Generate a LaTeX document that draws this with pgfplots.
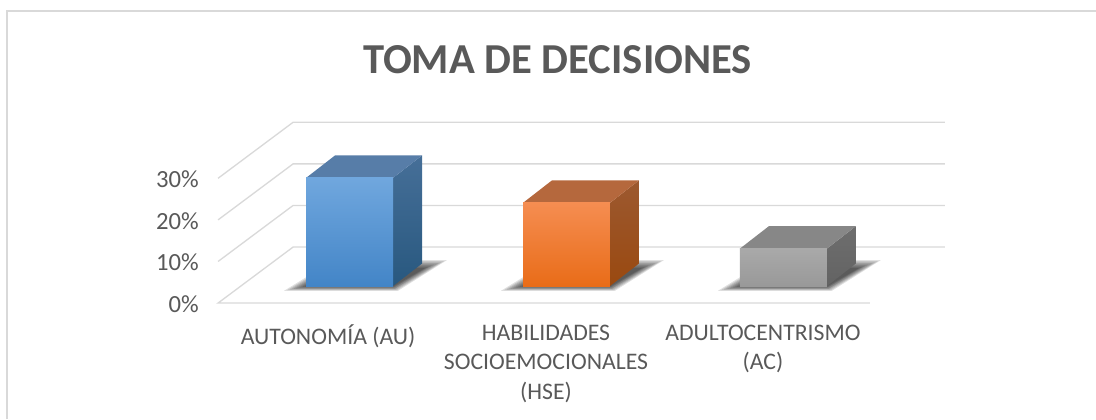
\documentclass[border=0pt]{standalone}
\usepackage{pgfplots}
\pgfplotsset{compat=1.18}
\usepackage{fontspec}
\setmainfont{Carlito}
\definecolor{gridc}{HTML}{D9D9D9}
\definecolor{txt}{HTML}{595959}
\newcommand{\shadowlayer}[2]{%
  \addplot[draw=none,fill=black,fill opacity=0.12,x filter/.expression={x+#1}] table[row sep=\\]{x y\\ #2 \\} -- cycle;}
\newcommand{\barshadow}[1]{%
  \shadowlayer{#1}{284 2.95\\ 398 2.95\\ 447 10.34\\ 334 10.34}
  \shadowlayer{#1}{287 3.10\\ 397 3.10\\ 444 10.07\\ 335 10.07}
  \shadowlayer{#1}{290 3.25\\ 396 3.25\\ 441 9.78\\ 335 9.78}
  \shadowlayer{#1}{293 3.40\\ 395 3.40\\ 438 9.52\\ 336 9.52}
  \shadowlayer{#1}{296 3.55\\ 395 3.55\\ 434 9.23\\ 336 9.23}
  \shadowlayer{#1}{299 3.70\\ 394 3.70\\ 431 8.97\\ 337 8.97}
  \shadowlayer{#1}{302 3.85\\ 394 3.85\\ 428 8.68\\ 337 8.68}
  \shadowlayer{#1}{305 3.97\\ 393 3.97\\ 425 8.41\\ 338 8.41}}
\begin{document}
\begin{tikzpicture}
\begin{axis}[
  scale only axis, width=822pt, height=314.25pt,
  xmin=0, xmax=1096, ymin=-27.885, ymax=72.837,
  axis line style={draw=none},
  major tick length=0pt,
  no markers,
  clip=true,
  xtick={328,546,763},
  xticklabels={AUTONOMÍA (AU),HABILIDADES\\SOCIOEMOCIONALES\\(HSE),ADULTOCENTRISMO\\(AC)},
  xticklabel style={align=center,anchor=north,yshift=74pt,font=\fontsize{17.8}{22}\selectfont,text=txt},
  ytick={0,10,20,30},
  yticklabels={0\%,10\%,20\%,30\%},
  yticklabel style={anchor=east,xshift=152.5pt,yshift=-0.8pt,font=\fontsize{18.5}{20}\selectfont,text=txt},
]
% frame
\addplot[gridc,line width=1.5pt] coordinates {(7,-27.885) (7,70.19) (1096,70.19)};
% floor and grid
\addplot[gridc,line width=1pt] coordinates {(870,0) (218,0) (293,13.46) (945,13.46)};
\addplot[gridc,line width=1pt] coordinates {(218,10) (293,23.46) (945,23.46)};
\addplot[gridc,line width=1pt] coordinates {(218,20) (293,33.46) (945,33.46)};
\addplot[gridc,line width=1pt] coordinates {(218,30) (293,43.46) (945,43.46)};
% shadows
\barshadow{0}
\barshadow{217}
\barshadow{434}
% AUTONOMIA 26%
\addplot[draw=none,fill=none,top color={rgb,255:red,70;green,111;blue,152},bottom color={rgb,255:red,40;green,88;blue,127}] coordinates {(393,4.09) (422,9.5) (422,35.5) (393,30.09)} -- cycle;
\addplot[draw=none,fill={rgb,255:red,87;green,125;blue,168}] coordinates {(306,30.09) (393,30.09) (422,35.5) (335,35.5)} -- cycle;
\addplot[draw=none,top color={rgb,255:red,112;green,167;blue,222},bottom color={rgb,255:red,67;green,133;blue,199}] coordinates {(306,4.09) (393,4.09) (393,30.09) (306,30.09)} -- cycle;
% HSE 20%
\addplot[draw=none,top color={rgb,255:red,156;green,89;blue,48},bottom color={rgb,255:red,154;green,73;blue,16}] coordinates {(610,4.09) (639,9.5) (639,29.5) (610,24.09)} -- cycle;
\addplot[draw=none,fill={rgb,255:red,181;green,104;blue,61}] coordinates {(523,24.09) (610,24.09) (639,29.5) (552,29.5)} -- cycle;
\addplot[draw=none,top color={rgb,255:red,245;green,141;blue,81},bottom color={rgb,255:red,233;green,108;blue,24}] coordinates {(523,4.09) (610,4.09) (610,24.09) (523,24.09)} -- cycle;
% AC 9%
\addplot[draw=none,top color={rgb,255:red,110;green,110;blue,110},bottom color={rgb,255:red,99;green,99;blue,99}] coordinates {(827,4.09) (856,9.5) (856,18.5) (827,13.09)} -- cycle;
\addplot[draw=none,fill={rgb,255:red,135;green,135;blue,135}] coordinates {(740,13.09) (827,13.09) (856,18.5) (769,18.5)} -- cycle;
\addplot[draw=none,top color={rgb,255:red,169;green,169;blue,169},bottom color={rgb,255:red,153;green,153;blue,153}] coordinates {(740,4.09) (827,4.09) (827,13.09) (740,13.09)} -- cycle;
% title
\node[text=txt,font=\fontsize{32}{36}\selectfont\bfseries,anchor=center] at (axis cs:557.5,58.6) {TOMA DE DECISIONES};
\end{axis}
\end{tikzpicture}
\end{document}
